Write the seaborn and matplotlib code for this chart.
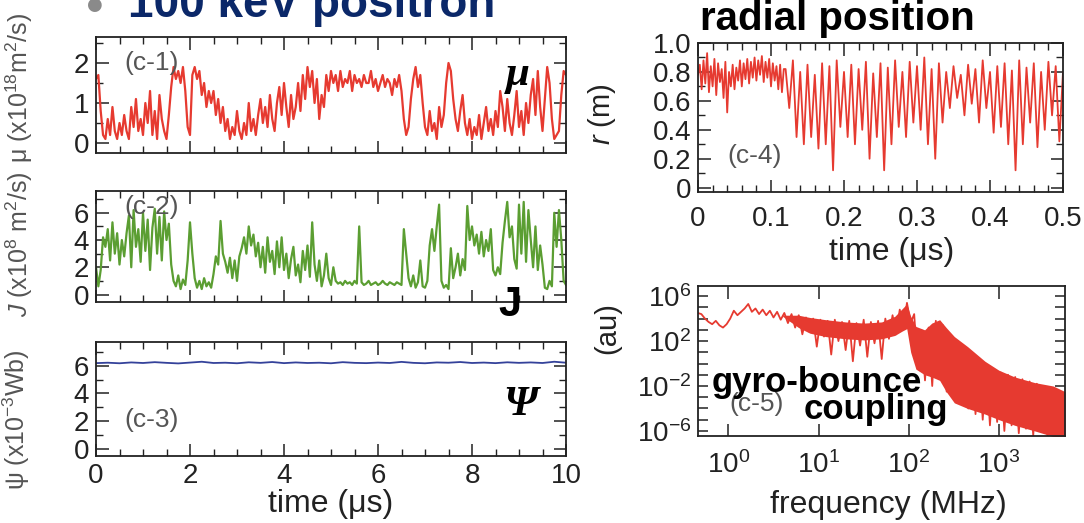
import numpy as np
import matplotlib
matplotlib.use('Agg')
import matplotlib.pyplot as plt
import seaborn as sns
from matplotlib.ticker import MultipleLocator, FixedLocator, NullFormatter, FuncFormatter, NullLocator

# ---------------- data ----------------
# (c-1) mu, x1e18 m^2/s, sampled every 0.05 us from 0 to 10 us
mu_vals = [1.6, 1.7, 0.8, 0.2, 0.1, 0.6, 0.2, 0.9, 0.3, 0.1, 0.5,
           0.2, 0.7, 0.3, 0.1, 0.9, 0.4, 1.1, 0.3, 0.6, 0.2, 1.0, 0.5, 1.3, 0.2, 0.8, 0.1, 1.2, 0.6, 0.3, 0.1,
           0.7, 1.4, 1.9, 1.6,
           1.8, 1.5, 1.9, 1.3, 0.4, 0.2,
           1.7, 1.9, 1.6, 1.8, 1.2, 1.5, 0.9, 1.3,
           1.0, 1.3, 0.7, 1.1, 0.5, 0.9, 0.3, 0.6, 0.1, 0.4, 0.2, 0.8,
           0.3, 0.1, 0.5, 0.2, 1.0, 0.3, 0.6, 0.2, 0.7, 1.1,
           0.5, 0.9, 0.4, 1.2, 0.6, 0.3, 1.0, 1.4, 0.7, 1.5,
           0.9, 0.4, 1.2, 0.6, 0.9, 1.5, 0.8, 1.7, 1.1, 1.9,
           1.4, 1.8, 1.0, 1.6, 0.6, 1.2, 0.9, 1.7, 1.3, 1.8,
           1.5, 1.7, 1.3, 1.8, 1.4, 1.6, 1.5, 1.8, 1.3, 1.7, 1.5, 1.6, 1.4, 1.7, 1.5,
           1.5, 1.8, 1.4, 1.6, 1.3, 1.5, 1.7, 1.4, 1.6, 1.5, 1.2, 1.6, 1.4, 1.7, 1.3,
           0.6, 0.2, 0.4, 1.1,
           1.6, 1.9, 1.4, 1.7, 1.0, 0.4,
           0.2, 0.8, 0.3, 0.5, 0.1, 0.9, 0.4, 0.7,
           1.5, 2.0, 1.8, 1.1, 0.6,
           0.3, 0.8, 1.2, 0.5, 0.2, 0.6, 0.1,
           0.4, 0.2, 0.7, 0.1, 0.5, 0.9, 0.3, 0.6, 0.2, 0.8, 0.4, 1.3,
           0.9, 0.3, 1.1, 0.5, 0.2, 0.7, 1.3, 0.4, 0.8, 0.2, 1.0, 0.5,
           1.2, 1.6, 0.7, 1.8, 0.9, 0.3, 1.1,
           1.9, 1.5, 0.6, 0.1, 0.2, 0.3,
           1.2, 1.8, 1.7]

# (c-2) J, x1e8 m^2/s, sampled every 0.05 us
j_vals = [2.0, 0.6, 1.8, 4.2, 3.5,
          4.8, 2.5, 5.3, 3.0, 4.5, 2.2, 4.0, 2.8,
          4.5, 5.8, 2.0, 6.2, 3.5, 4.8, 2.4, 6.0, 3.2, 5.5, 1.8, 4.9, 6.3, 3.0, 5.7, 2.5, 6.1, 4.0, 5.2, 2.2,
          1.0, 0.6, 1.4, 0.4, 1.1, 0.7,
          2.5, 5.3, 3.0, 1.2,
          0.5, 1.0, 0.4, 1.2, 0.6, 0.9, 0.5, 1.5,
          2.8, 2.2, 5.4, 3.0, 2.4, 1.6, 2.7,
          1.2, 2.5, 1.0, 2.8, 3.4,
          4.2, 3.0, 5.0, 3.6, 4.4, 2.8,
          3.8, 2.0, 3.5, 1.6, 4.2, 2.4, 3.2, 1.5, 3.9, 2.0, 4.2, 1.8,
          3.0, 1.2, 2.6, 3.5, 1.4, 2.2, 0.9, 3.2, 1.8, 3.6, 1.3, 5.3,
          2.2, 1.0, 2.5, 0.6, 1.4, 3.0, 1.2, 0.7, 2.0, 1.0,
          0.8, 0.9, 0.7, 1.0, 0.8, 0.9, 0.7, 1.0, 0.8,
          5.0,
          0.9, 0.7, 0.8, 1.0, 0.7, 0.8, 0.9, 0.7, 0.8, 1.0, 0.8, 0.7, 0.9, 0.8, 0.7, 0.9, 0.8, 0.7,
          4.8, 3.0,
          1.2, 0.6, 1.4, 0.5, 0.9,
          2.5, 0.6, 0.5, 1.0,
          3.6, 4.8, 3.2, 5.0, 6.6,
          1.0, 0.5, 0.7, 0.4, 3.4, 1.2,
          2.0, 3.0, 1.4, 2.6, 1.8,
          6.5, 4.0, 5.0, 3.6, 4.4,
          3.0, 4.6, 2.8, 4.0, 3.2, 4.8,
          1.8, 1.4, 2.0, 1.5,
          3.8, 5.4, 6.8, 4.2, 5.0, 2.6, 1.9,
          6.6, 3.0, 6.8, 2.4, 6.2,
          4.0, 2.0, 5.0, 1.8, 3.6, 2.2,
          0.5, 0.4, 1.0, 0.6,
          6.0, 3.5, 6.2,
          4.0, 1.0, 0.7]

# (c-3) psi, x1e-3 Wb, sampled every 0.25 us
psi_vals = [6.18, 6.21, 6.17, 6.23, 6.19, 6.25, 6.20, 6.16, 6.22, 6.28, 6.19,
            6.21, 6.17, 6.24, 6.20, 6.26, 6.18, 6.23, 6.19, 6.21, 6.17,
            6.25, 6.20, 6.18, 6.22, 6.19, 6.27, 6.20, 6.17, 6.23, 6.21,
            6.26, 6.19, 6.22, 6.18, 6.24, 6.20, 6.23, 6.19, 6.28, 6.21]

# (c-4) r (m): fast part 0..0.1175 us every 0.0025 us
r_fast = [0.78, 0.85, 0.68, 0.88, 0.72, 0.93, 0.66, 0.84,
          0.70, 0.89, 0.64, 0.86, 0.73, 0.82, 0.62, 0.87,
          0.52, 0.80, 0.70, 0.85, 0.68, 0.83, 0.74, 0.88,
          0.70, 0.86, 0.75, 0.89, 0.72, 0.87, 0.76, 0.90,
          0.74, 0.88, 0.78, 0.91, 0.73, 0.87, 0.76, 0.89,
          0.70, 0.86, 0.74, 0.84, 0.68, 0.85, 0.66, 0.82]
# slow part 0.12..0.5 us: peaks at 0.12+0.01k, troughs at 0.125+0.01k
r_peaks = [0.82, 0.88, 0.80, 0.85, 0.78, 0.86, 0.84, 0.88, 0.80, 0.85,
           0.82, 0.87, 0.79, 0.86, 0.83, 0.88, 0.80, 0.87, 0.84, 0.90,
           0.82, 0.86, 0.80, 0.84, 0.78, 0.85, 0.82, 0.88, 0.80, 0.84,
           0.86, 0.81, 0.88, 0.83, 0.86, 0.80, 0.87, 0.84, 0.80]
r_troughs = [0.55, 0.35, 0.30, 0.35, 0.27, 0.30, 0.12, 0.42, 0.35, 0.30,
             0.40, 0.20, 0.35, 0.12, 0.30, 0.42, 0.35, 0.45, 0.40, 0.30,
             0.20, 0.45, 0.55, 0.62, 0.50, 0.58, 0.45, 0.55, 0.38, 0.42,
             0.30, 0.12, 0.30, 0.45, 0.28, 0.40, 0.50, 0.32]

# (c-5) spectrum: log10(power) on a log10(f) grid starting at -0.34, step 0.04
spec_exp = [4.5, 4.4, 4.0, 3.7, 3.5, 3.8, 3.4, 3.2, 3.5, 4.0,
            4.7, 4.3, 4.6, 4.9, 5.3, 4.6, 4.9, 4.4, 4.8, 4.3,
            4.7, 4.1, 4.6, 3.9, 4.5, 3.6, 4.4, 3.2, 4.3, 2.6,
            4.1, 2.8, 4.0, 1.5, 3.9, 2.4, 3.8, 0.8, 3.9, 2.0,
            3.7, 1.2, 3.8, 0.2, 3.6, 1.6, 3.9, 0.6, 3.7, 1.8,
            3.8, 0.4, 4.0, 2.2, 4.3, 2.6, 4.8, 3.2, 5.4, 3.6,
            4.4, -0.5, 3.0, -1.5, 3.2, -2.0, 3.8, -1.0, 3.4, -2.5,
            2.6, -3.0, 2.0, -3.5, 1.2, -4.0, 0.6, -4.5, 0.2, -5.0,
            -0.2, -5.5, -0.5, -5.2, -0.8, -6.0, -1.0, -5.5, -1.2, -6.2,
            -1.4, -5.8, -1.6, -6.4, -1.8, -6.0, -2.0, -6.5, -2.2, -6.1,
            -2.4, -6.4]
band_freq = [4, 6, 8, 12, 20, 32, 50, 70, 85, 95, 105, 120, 150, 180,
             220, 260, 320, 450, 700, 1000, 1500, 2500, 4000, 5400]
band_upper_exp = [4.3, 4.3, 4.1, 3.9, 3.7, 3.6, 3.7, 4.2, 4.9, 5.3, 4.2, 3.3,
                  3.0, 3.6, 3.9, 3.2, 2.4, 1.5, 0.2, -0.6, -1.2, -1.7, -2.0, -2.5]
band_lower_exp = [4.2, 3.2, 2.7, 2.4, 2.2, 2.1, 2.2, 2.5, 2.9, 3.1, 1.0, -0.5,
                  -1.0, -1.2, -1.5, -2.5, -3.5, -4.0, -4.5, -5.0, -5.5, -6.0, -6.5, -6.5]

# ---------------- styling ----------------
sns.set_theme(style='ticks')
plt.rcParams['font.family'] = ['Liberation Sans', 'DejaVu Sans']
plt.rcParams['mathtext.fontset'] = 'custom'
plt.rcParams['mathtext.rm'] = 'Liberation Sans'
plt.rcParams['mathtext.it'] = 'Liberation Sans:italic'
plt.rcParams['mathtext.bf'] = 'Liberation Sans:bold'
plt.rcParams['axes.linewidth'] = 1.3
plt.rcParams['axes.edgecolor'] = '#222222'

RED = '#e63a30'
GREEN = '#5b9e32'
BLUE = '#34429a'
TICK_FS = 20
LAB_GRAY = '#555555'
YLAB_FS = 18

fig = plt.figure(figsize=(10.84, 5.23), dpi=100)
W, H = 1084.0, 523.0


def add_ax(x0, y0, x1, y1):
    return fig.add_axes([x0 / W, 1 - y1 / H, (x1 - x0) / W, (y1 - y0) / H])


def style(ax):
    ax.tick_params(which='both', direction='in', top=True, right=True,
                   colors='#222222', labelcolor='#222222', labelsize=TICK_FS, pad=5)
    ax.tick_params(which='major', length=9, width=1.1)
    ax.tick_params(which='minor', length=5, width=1.0)
    for s in ax.spines.values():
        s.set_visible(True)
        s.set_color('#222222')


ax1 = add_ax(96, 37, 566, 153)
ax2 = add_ax(96, 191, 566, 302)
ax3 = add_ax(96, 342, 566, 456)
ax4 = add_ax(698, 43, 1063, 192)
ax5 = add_ax(698, 286, 1065, 436)

# (c-1)
t_mu = np.linspace(0, 10, len(mu_vals))
sns.lineplot(x=t_mu, y=mu_vals, ax=ax1, color=RED, linewidth=1.6)
ax1.set_ylim(-0.25, 2.65)
ax1.yaxis.set_major_locator(FixedLocator([0, 1, 2]))
ax1.yaxis.set_minor_locator(MultipleLocator(0.5))

# (c-2)
t_j = np.linspace(0, 10, len(j_vals))
sns.lineplot(x=t_j, y=j_vals, ax=ax2, color=GREEN, linewidth=1.6)
ax2.set_ylim(-0.55, 7.6)
ax2.yaxis.set_major_locator(FixedLocator([0, 2, 4, 6]))
ax2.yaxis.set_minor_locator(MultipleLocator(1))

# (c-3)
t_psi = np.linspace(0, 10, len(psi_vals))
sns.lineplot(x=t_psi, y=psi_vals, ax=ax3, color=BLUE, linewidth=1.3)
ax3.set_ylim(-0.5, 7.7)
ax3.yaxis.set_major_locator(FixedLocator([0, 2, 4, 6]))
ax3.yaxis.set_minor_locator(MultipleLocator(1))

for ax in (ax1, ax2, ax3):
    ax.set_xlim(0, 10)
    ax.xaxis.set_major_locator(MultipleLocator(2))
    ax.xaxis.set_minor_locator(MultipleLocator(0.5))
    style(ax)
    ax.set_xlabel('')
for ax in (ax1, ax2):
    ax.xaxis.set_major_formatter(NullFormatter())

ax1.set_ylabel('μ (x10$^{18}$m$^{2}$/s)', fontsize=YLAB_FS, color=LAB_GRAY)
ax1.yaxis.set_label_coords(-0.13, 0.56)
ax2.set_ylabel('$\\mathit{J}$ (x10$^{8}$ m$^{2}$/s)', fontsize=YLAB_FS, color=LAB_GRAY)
ax2.yaxis.set_label_coords(-0.13, 0.52)
ax3.set_ylabel('ψ (x10$^{-3}$Wb)', fontsize=YLAB_FS, color=LAB_GRAY)
ax3.yaxis.set_label_coords(-0.137, 0.32)
ax3.set_xlabel('time (μs)', fontsize=23, color='#222222')
ax3.xaxis.set_label_coords(0.5, -0.29)

ax1.text(0.06, 0.78, '(c-1)', transform=ax1.transAxes, fontsize=19, color='#555555', va='center')
ax2.text(0.06, 0.86, '(c-2)', transform=ax2.transAxes, fontsize=19, color='#555555', va='center')
ax3.text(0.06, 0.32, '(c-3)', transform=ax3.transAxes, fontsize=19, color='#555555', va='center')

fig.text(518 / W, 1 - 75 / H, 'μ', family=['Liberation Serif', 'DejaVu Serif'], fontweight='bold',
         style='italic', fontsize=31, ha='center', va='center', color='black')
fig.text(510 / W, 1 - 305 / H, 'J', fontweight='bold', fontsize=30, ha='center', va='center', color='black')
fig.text(520 / W, 1 - 405 / H, 'Ψ', family=['Liberation Serif', 'DejaVu Serif'], fontweight='bold',
         style='italic', fontsize=31, ha='center', va='center', color='black')

# (c-4)
t_r = np.concatenate([np.arange(len(r_fast)) * 0.0025,
                      0.12 + np.arange(len(r_peaks) + len(r_troughs)) * 0.005])
r_slow = np.empty(len(r_peaks) + len(r_troughs))
r_slow[0::2] = r_peaks
r_slow[1::2] = r_troughs
r_all = np.concatenate([r_fast, r_slow])
sns.lineplot(x=t_r, y=r_all, ax=ax4, color=RED, linewidth=1.3)
ax4.set_xlim(0, 0.5)
ax4.set_ylim(-0.03, 1.0)
ax4.xaxis.set_major_locator(MultipleLocator(0.1))
ax4.xaxis.set_minor_locator(MultipleLocator(0.02))
ax4.yaxis.set_major_locator(MultipleLocator(0.2))
ax4.yaxis.set_minor_locator(MultipleLocator(0.1))
fmt = FuncFormatter(lambda v, p: '0' if abs(v) < 1e-9 else f'{v:.1f}')
ax4.xaxis.set_major_formatter(fmt)
ax4.yaxis.set_major_formatter(fmt)
style(ax4)
ax4.tick_params(axis='x', which='major', pad=10)
ax4.set_ylabel('$\\mathit{r}$ (m)', fontsize=21, color='#222222')
ax4.yaxis.set_label_coords(-0.22, 0.52)
ax4.set_xlabel('time (μs)', fontsize=23, color='#222222')
ax4.xaxis.set_label_coords(0.53, -0.30)
ax4.text(0.08, 0.24, '(c-4)', transform=ax4.transAxes, fontsize=19, color='#555555', va='center')

# (c-5)
f_grid = 10.0 ** (-0.34 + 0.04 * np.arange(len(spec_exp)))
ax5.fill_between(band_freq, 10.0 ** np.array(band_lower_exp), 10.0 ** np.array(band_upper_exp),
                 color=RED, linewidth=0)
sns.lineplot(x=f_grid, y=10.0 ** np.array(spec_exp), ax=ax5, color=RED, linewidth=1.3)
ax5.set_xscale('log')
ax5.set_yscale('log')
ax5.set_xlim(0.46, 5400)
ax5.set_ylim(10 ** -6.45, 10 ** 6.9)
ax5.xaxis.set_major_locator(FixedLocator([1, 10, 100, 1000]))
ax5.xaxis.set_minor_locator(NullLocator())
ax5.yaxis.set_major_locator(FixedLocator([10.0 ** k for k in range(-6, 7)]))
ax5.yaxis.set_minor_locator(NullLocator())
ax5.xaxis.set_major_formatter(FuncFormatter(lambda v, p: '10$^{%d}$' % round(np.log10(v))))
ax5.yaxis.set_major_formatter(FuncFormatter(
    lambda v, p: ('10$^{%d}$' % round(np.log10(v))) if round(np.log10(v)) in (6, 2, -2, -6) else ''))
style(ax5)
ax5.tick_params(axis='y', which='major', length=7)
ax5.tick_params(axis='x', which='major', pad=11)
ax5.set_ylabel('(au)', fontsize=21, color='#222222')
ax5.yaxis.set_label_coords(-0.21, 0.72)
ax5.set_xlabel('frequency (MHz)', fontsize=23, color='#222222')
ax5.xaxis.set_label_coords(0.52, -0.36)
ax5.text(0.085, 0.21, '(c-5)', transform=ax5.transAxes, fontsize=19, color='#555555', va='center')

# headline texts
fig.text(95 / W, 1 - 5 / H, '●', fontsize=13, color='#8a8a8a', ha='center', va='center',
         family=['DejaVu Sans'])
fig.text(128 / W, 1 - 17 / H, '100 keV positron', fontsize=33, fontweight='bold',
         color='#0b2869', ha='left', va='baseline')
fig.text(700 / W, 1 - 30 / H, 'radial position', fontsize=29, fontweight='bold',
         color='black', ha='left', va='baseline')
fig.text(712 / W, 1 - 392 / H, 'gyro-bounce', fontsize=25, fontweight='bold',
         color='black', ha='left', va='baseline')
fig.text(804 / W, 1 - 419 / H, 'coupling', fontsize=25, fontweight='bold',
         color='black', ha='left', va='baseline')

fig.savefig('out.png', dpi=100)
